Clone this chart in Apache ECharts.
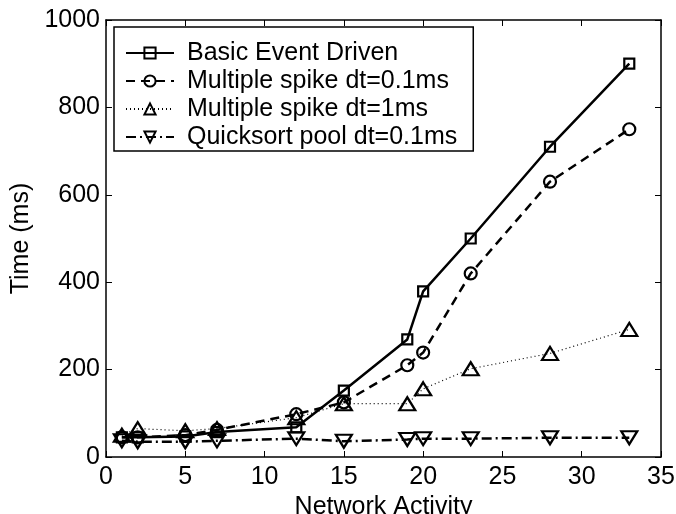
<!DOCTYPE html>
<html>
<head>
<meta charset="utf-8">
<script src="https://cdn.jsdelivr.net/npm/echarts@6/dist/echarts.min.js"></script>
<style>
  html, body { margin: 0; padding: 0; background: #fff; }
  #chart { width: 676px; height: 514px; }
</style>
</head>
<body>
<div id="chart"></div>
<script>
// network activity vs. time, 4 schemes
const activity = [1, 2, 5, 7, 12, 15, 19, 20, 23, 28, 33];
const basicEvent = [45, 45, 47, 57, 68, 152, 269, 379, 500, 710, 900];
const multi01 = [45, 45, 50, 62, 98, 125, 210, 239, 420, 630, 750];
const multi1 = [50, 65, 60, 65, 90, 122, 122, 156, 202, 237, 292];
const quickPool = [37, 35, 35, 37, 42, 36, 40, 42, 42, 44, 44];

const xTicks = { min: 0, max: 35, step: 5 };
const yTicks = { min: 0, max: 1000, step: 200 };

const FONT = "Liberation Sans";
const pts = ys => activity.map((x, i) => [x, ys[i]]);

function mk(name, ys, symbol, size, rot, lineType, width) {
  return {
    name, type: "line", data: pts(ys),
    symbol, symbolSize: size, symbolRotate: rot,
    lineStyle: { color: "#000", width, type: lineType },
    itemStyle: { color: "rgba(0,0,0,0)", borderColor: "#000", borderWidth: 2.2 },
    emphasis: { disabled: true },
    animation: false,
  };
}

const chart = echarts.init(document.getElementById("chart"));

const axisCommon = {
  type: "value",
  axisLine: { show: true, onZero: false, lineStyle: { color: "#000", width: 1.5 } },
  axisTick: { show: true, inside: true, length: 6, lineStyle: { color: "#000", width: 1 } },
  splitLine: { show: false },
};

chart.setOption({
  backgroundColor: "#fff",
  grid: { left: 106, right: 15, top: 20, bottom: 57, containLabel: false, outerBoundsMode: "none" },
  legend: {
    orient: "vertical", left: 114, top: 27,
    backgroundColor: "#fff", borderColor: "#000", borderWidth: 1.5,
    padding: [12, 16, 0, 11], itemGap: 0,
    itemWidth: 48, itemHeight: 14,
    textStyle: { fontFamily: FONT, fontSize: 25, color: "#000", lineHeight: 28, padding: [0, 0, 0, 8] },
    data: ["Basic Event Driven", "Multiple spike dt=0.1ms", "Multiple spike dt=1ms", "Quicksort pool dt=0.1ms"],
  },
  xAxis: [
    Object.assign({}, axisCommon, {
      min: xTicks.min, max: xTicks.max, interval: xTicks.step,
      name: "Network Activity", nameLocation: "middle", nameGap: 37,
      nameTextStyle: { fontFamily: FONT, fontSize: 25, color: "#000" },
      axisLabel: { fontFamily: FONT, fontSize: 25, color: "#000", margin: 8, formatter: v => String(v) },
    }),
    Object.assign({}, axisCommon, {
      position: "top", min: xTicks.min, max: xTicks.max, interval: xTicks.step,
      axisLabel: { show: false },
    }),
  ],
  yAxis: [
    Object.assign({}, axisCommon, {
      min: yTicks.min, max: yTicks.max, interval: yTicks.step,
      name: "Time (ms)", nameLocation: "middle", nameGap: 63,
      nameTextStyle: { fontFamily: FONT, fontSize: 25, color: "#000" },
      axisLabel: { fontFamily: FONT, fontSize: 25, color: "#000", margin: 6, formatter: v => String(v) },
    }),
    Object.assign({}, axisCommon, {
      position: "right", min: yTicks.min, max: yTicks.max, interval: yTicks.step,
      axisLabel: { show: false },
    }),
  ],
  series: [
    mk("Basic Event Driven", basicEvent, "rect", 10, 0, "solid", 2.5),
    mk("Multiple spike dt=0.1ms", multi01, "circle", 12, 0, [9, 6], 2.5),
    mk("Multiple spike dt=1ms", multi1, "triangle", [16, 13], 0, [1, 3], 1.2),
    mk("Quicksort pool dt=0.1ms", quickPool, "triangle", [16, 13], 180, [10, 4, 2, 4], 2.5),
  ],
});
</script>
</body>
</html>
